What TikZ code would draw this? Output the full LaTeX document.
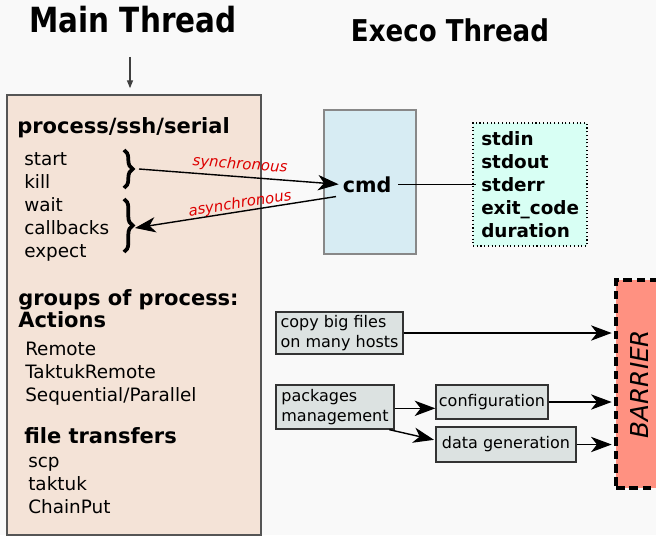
\documentclass[tikz,border=0pt]{standalone}
\usepackage{fontspec}
\setmainfont{DejaVu Sans}
\usetikzlibrary{arrows.meta,decorations.pathreplacing}

\definecolor{bg}{HTML}{F9F9F9}
\definecolor{mainfill}{HTML}{F4E3D7}
\definecolor{mainline}{HTML}{555555}
\definecolor{cmdfill}{HTML}{D7ECF3}
\definecolor{cmdline}{HTML}{888888}
\definecolor{outfill}{HTML}{D8FFF4}
\definecolor{taskfill}{HTML}{DCE2E1}
\definecolor{barrierfill}{HTML}{FF9181}
\definecolor{labelred}{HTML}{DD0000}

\begin{document}
\begin{tikzpicture}[x=0.75pt,y=-0.75pt,
  title/.style={inner sep=0pt, anchor=base, font=\bfseries},
  header/.style={inner sep=0pt, anchor=base west, font=\fontsize{15.75}{18}\selectfont\bfseries},
  item/.style={inner sep=0pt, anchor=base west, font=\fontsize{13.8}{16}\selectfont},
  outitem/.style={inner sep=0pt, anchor=base west, font=\fontsize{13.8}{16}\selectfont\bfseries},
  task/.style={draw=black!80, fill=taskfill, line width=1pt, inner sep=0pt,
               align=left, font=\fontsize{12}{15}\selectfont},
  flow/.style={line width=1.05pt, -{Stealth[length=15.5pt,width=11.5pt,inset=4.5pt]}},
  calllabel/.style={inner sep=0pt, text=labelred, font=\fontsize{11.2}{13}\selectfont\itshape},
  bracestyle/.style={line width=2.8pt, decorate,
               decoration={brace, amplitude=6.5pt, aspect=0.5}}
]
% canvas
\useasboundingbox (0,0) rectangle (656,535);
\fill[bg] (0,0) rectangle (656,535);

% thread titles
\node[title, font=\fontsize{26}{30}\selectfont\bfseries] (maintitle) at (133,33)
  {\scalebox{0.85}[1]{Main Thread}};
\node[title, font=\fontsize{22.5}{26}\selectfont\bfseries] (execotitle) at (450,42)
  {\scalebox{0.87}[1]{Execo Thread}};

% main thread panel
\node[draw=mainline, fill=mainfill, line width=1.1pt, inner sep=0pt,
      minimum width=190.5pt, minimum height=330pt] (main) at (134,315) {};
\coordinate (mtop) at (130,57);
\draw[draw=black!75, line width=1.1pt, shorten >=4.5pt,
      -{Triangle[length=6pt,width=4.5pt]}] (mtop) -- (mtop |- main.north);

% process/ssh/serial
\node[header] (proc) at (17,133) {process/ssh/serial};
\foreach \t [count=\i] in {start,kill,wait,callbacks,expect}
  \node[item] (call\i) at (24,{142+23*\i}) {\t};
\draw[bracestyle] (124,150) -- (124,188);
\draw[bracestyle] (124,199) -- (124,252);
\coordinate (synfrom) at (139,169);
\coordinate (asyto) at (135,228);

% groups of process
\node[header] (groups) at (18,305) {groups of process:};
\node[header] (actions) at (18,327) {Actions};
\foreach \t [count=\i] in {Remote,TaktukRemote,Sequential/Parallel}
  \node[item] (act\i) at (25,{332+23*\i}) {\t};

% file transfers
\node[header] (files) at (24,443) {file transfers};
\foreach \t [count=\i] in {scp,taktuk,ChainPut}
  \node[item] (ft\i) at (28,{444+23*\i}) {\t};

% execo thread: command and its outputs
\node[draw=cmdline, fill=cmdfill, line width=1pt, inner sep=0pt,
      minimum width=69pt, minimum height=108pt] (cmdbox) at (370,182) {};
\node[inner sep=2pt, anchor=base west, font=\fontsize{15.5}{18}\selectfont\bfseries]
  (cmd) at (340,192) {cmd};
\node[draw=black, dotted, fill=outfill, line width=0.8pt, inner sep=0pt,
      minimum width=85.5pt, minimum height=92.25pt] (out) at (530,184.5) {};
\foreach \t [count=\i] in {stdin,stdout,stderr,exit\_code,duration}
  \node[outitem] (out\i) at (481,{122+23*\i}) {\t};
\draw[line width=0.9pt] ([xshift=3pt]cmd.east) -- ([xshift=3pt]cmd.east -| out.west);

% synchronous / asynchronous calls
\draw[flow] (synfrom) -- ([xshift=-1pt]cmd.west);
\draw[flow] ([shift={(-3pt,-1pt)}]cmd.south west) -- (asyto);
\node[calllabel, rotate=-4] (synlabel) at (240,165) {synchronous};
\node[calllabel, rotate=9] (asylabel) at (240,204) {asynchronous};

% tasks and barrier
\node[draw=black, dashed, dash pattern=on 6.5pt off 3.5pt, fill=barrierfill,
      line width=2.5pt, inner sep=0pt, minimum width=33pt, minimum height=156pt]
  (barrier) at (638,384) {};
\node[rotate=90, inner sep=0pt, font=\fontsize{18.5}{22}\selectfont\itshape]
  (barriertext) at (639,384) {BARRIER};

\node[task, minimum width=95.25pt, minimum height=31.5pt] (copy) at (339.5,333)
  {copy big files\\on many hosts};
\node[task, minimum width=88.5pt, minimum height=33pt] (pkg) at (335,407)
  {packages\\management};
\node[task, minimum width=84pt, minimum height=25.5pt] (conf) at (492,402)
  {configuration};
\node[task, minimum width=105pt, minimum height=26.25pt] (datagen) at (506,444.5)
  {data generation};

\draw[flow, shorten >=2pt] (copy.east) -- (copy.east -| barrier.west);
\draw[flow] ([yshift=-1pt]pkg.east) -- ([yshift=-1pt]pkg.east -| conf.west);
\draw[flow] ([xshift=-4pt]pkg.south east) -- ([shift={(-1pt,3.5pt)}]datagen.west);
\draw[flow, shorten >=2pt] (conf.east) -- (conf.east -| barrier.west);
\draw[flow, shorten >=2pt] (datagen.east) -- (datagen.east -| barrier.west);
\end{tikzpicture}
\end{document}
